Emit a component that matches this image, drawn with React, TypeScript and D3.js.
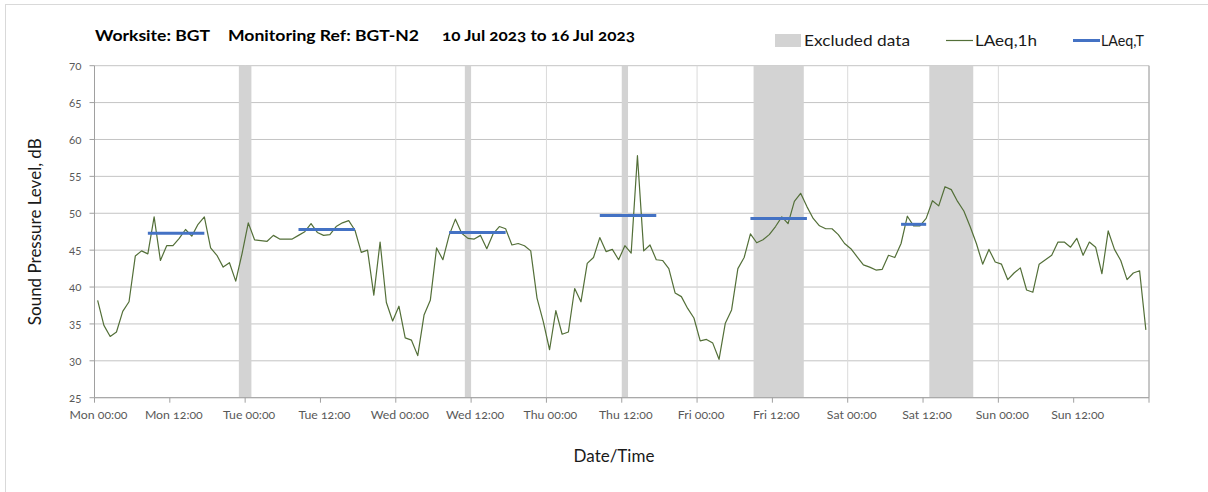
import * as d3 from 'd3'

const START = new Date(2023, 6, 10, 0, 0)
const END = new Date(2023, 6, 17, 0, 0)

// hourly LAeq,1h values, point i sits at hour i + 0.5 from Mon 00:00
const LAEQ_1H = [
  // Mon
  38.2, 34.8, 33.3, 33.9, 36.7, 38.0, 44.2, 44.9, 44.5, 49.5, 43.6, 45.6,
  45.6, 46.6, 47.8, 46.9, 48.5, 49.5, 45.3, 44.3, 42.7, 43.3, 40.8, 44.5,
  // Tue
  48.7, 46.4, 46.3, 46.2, 47.0, 46.5, 46.5, 46.5, 47.0, 47.5, 48.6, 47.4,
  47.0, 47.1, 48.2, 48.7, 49.0, 47.7, 44.7, 45.0, 38.9, 46.1, 37.9, 35.4,
  // Wed
  37.4, 33.1, 32.8, 30.7, 36.2, 38.2, 45.3, 43.7, 47.0, 49.2, 47.3, 46.6,
  46.5, 47.0, 45.2, 47.2, 48.2, 47.9, 45.7, 45.9, 45.6, 44.9, 38.5, 35.3,
  // Thu
  31.5, 36.8, 33.6, 33.9, 39.8, 38.0, 43.2, 44.0, 46.7, 44.8, 45.1, 43.7,
  45.6, 44.6, 57.8, 44.9, 45.7, 43.7, 43.6, 42.5, 39.2, 38.7, 37.1, 35.8,
  // Fri
  32.7, 32.9, 32.4, 30.2, 35.1, 36.9, 42.5, 44.0, 47.2, 46.0, 46.4, 47.1,
  48.2, 49.5, 48.6, 51.6, 52.7, 50.9, 49.3, 48.3, 47.9, 47.9, 47.1, 45.9,
  // Sat
  45.2, 44.1, 43.0, 42.7, 42.3, 42.4, 44.3, 44.0, 45.9, 49.6, 48.3, 48.3,
  49.3, 51.7, 51.0, 53.6, 53.2, 51.6, 50.3, 48.2, 45.9, 43.1, 45.1, 43.4,
  // Sun
  43.1, 41.0, 41.9, 42.6, 39.6, 39.3, 43.1, 43.7, 44.3, 46.1, 46.1, 45.4,
  46.6, 44.3, 46.1, 45.4, 41.8, 47.6, 45.1, 43.6, 41.0, 41.9, 42.2, 34.2,
]
const POINT_OFFSET_H = 0.5

// excluded periods, hours from Mon 00:00
const EXCLUDED_START = [23, 59, 84, 105, 133]
const EXCLUDED_END = [25, 60, 85, 113, 140]

// LAeq,T day periods: first and last hourly point, level
const LAEQ_T_START = [8.5, 32.5, 56.5, 80.5, 104.5, 128.5]
const LAEQ_T_END = [17.5, 41.5, 65.5, 89.5, 113.5, 132.5]
const LAEQ_T_VALUE = [47.3, 47.8, 47.4, 49.7, 49.3, 48.5]

const Y_TICKS = [25, 30, 35, 40, 45, 50, 55, 60, 65, 70]

const FONT = 'Lato, "Open Sans", sans-serif'
const GREEN = '#536f38'
const BLUE = '#4472c4'
const BAND = '#d3d3d3'

const W = 1208
const H = 492
const m = { left: 94.5, right: 1149, top: 65.7, bottom: 397.7 }

const atHour = (h: number) => new Date(START.getTime() + h * 3600e3)

export default function App() {
  const x = d3.scaleTime().domain([START, END]).range([m.left, m.right])
  const y = d3.scaleLinear().domain([25, 70]).range([m.bottom, m.top])

  const halfDays = d3.timeHour.every(12)!.range(START, d3.timeHour.offset(END, 1))
  const days = d3.timeDay.range(START, d3.timeHour.offset(END, 1))
  const fmt = d3.timeFormat('%a %H:%M')

  const line = d3.line<number>()
    .x((_, i) => x(atHour(i + POINT_OFFSET_H)))
    .y(d => y(d))

  return (
    <>
      <style>{`body{margin:0}`}</style>
      <svg width={W} height={H} style={{ display: 'block', background: '#fff' }} fontFamily={FONT}>
        <rect x={5.5} y={4.5} width={W + 20} height={H + 20} fill="none" stroke="#d9d9d9" />

        {/* title */}
        <g fontWeight={700} fontSize={14.5} fill="#000">
          <text x={95} y={41} textLength={115} lengthAdjust="spacingAndGlyphs">Worksite: BGT</text>
          <text x={228} y={41} textLength={191} lengthAdjust="spacingAndGlyphs">Monitoring Ref: BGT-N2</text>
          <text x={442} y={41} textLength={193} lengthAdjust="spacingAndGlyphs"
            style={{ fontVariantNumeric: 'oldstyle-nums' }}>10 Jul 2023 to 16 Jul 2023</text>
        </g>

        {/* legend */}
        <g fontSize={16} fill="#1a1a1a">
          <rect x={775} y={34} width={26} height={13} fill={BAND} />
          <text x={804} y={46} textLength={106} lengthAdjust="spacingAndGlyphs">Excluded data</text>
          <line x1={946} x2={973} y1={40.5} y2={40.5} stroke={GREEN} strokeWidth={1.2} />
          <text x={975} y={46} textLength={62} lengthAdjust="spacingAndGlyphs">LAeq,1h</text>
          <line x1={1073} x2={1100} y1={40.5} y2={40.5} stroke={BLUE} strokeWidth={3} />
          <text x={1101} y={46} textLength={43} lengthAdjust="spacingAndGlyphs">LAeq,T</text>
        </g>

        {/* horizontal grid */}
        {Y_TICKS.map(t => (
          <line key={'gy' + t} x1={m.left} x2={m.right} y1={y(t)} y2={y(t)} stroke="#c4c4c4" strokeWidth={1} />
        ))}
        {/* vertical day grid */}
        {days.map(d => (
          <line key={'gx' + d.getTime()} x1={x(d)} x2={x(d)} y1={m.top} y2={m.bottom} stroke="#dadada" strokeWidth={1} />
        ))}

        {/* excluded bands */}
        {EXCLUDED_START.map((s, i) => (
          <rect key={'ex' + i} x={x(atHour(s))} y={m.top}
            width={x(atHour(EXCLUDED_END[i])) - x(atHour(s))} height={m.bottom - m.top} fill={BAND} />
        ))}

        {/* axes */}
        <line x1={m.left} x2={m.left} y1={m.top} y2={m.bottom} stroke="#a0a0a0" />
        <line x1={m.left} x2={m.right} y1={m.bottom} y2={m.bottom} stroke="#a0a0a0" />
        <line x1={m.right} x2={m.right} y1={m.top} y2={m.bottom} stroke="#a0a0a0" />
        {Y_TICKS.map(t => (
          <g key={'ty' + t}>
            <line x1={m.left - 5} x2={m.left} y1={y(t)} y2={y(t)} stroke="#a0a0a0" />
            <text x={m.left - 13} y={y(t)} dy="0.35em" textAnchor="end" fontSize={11.5} fill="#595959"
              style={{ fontVariantNumeric: 'oldstyle-nums' }}>{t}</text>
          </g>
        ))}
        {halfDays.map(d => (
          <g key={'tx' + d.getTime()}>
            <line x1={x(d)} x2={x(d)} y1={m.bottom} y2={m.bottom + 5} stroke="#a0a0a0" />
            {d < END && (
              <text x={x(d) + 4} y={m.bottom + 21} textAnchor="middle" fontSize={12.3} fill="#595959"
                style={{ fontVariantNumeric: 'oldstyle-nums' }}>{fmt(d)}</text>
            )}
          </g>
        ))}

        {/* LAeq,1h */}
        <path d={line(LAEQ_1H) ?? ''} fill="none" stroke={GREEN} strokeWidth={1.2} strokeLinejoin="round" />

        {/* LAeq,T */}
        {LAEQ_T_START.map((s, i) => (
          <line key={'lt' + i} x1={x(atHour(s))} x2={x(atHour(LAEQ_T_END[i]))}
            y1={y(LAEQ_T_VALUE[i])} y2={y(LAEQ_T_VALUE[i])} stroke={BLUE} strokeWidth={3} />
        ))}

        {/* axis titles */}
        <text transform={`translate(41,${(m.top + m.bottom) / 2}) rotate(-90)`} textAnchor="middle"
          fontSize={17} fill="#1a1a1a">Sound Pressure Level, dB</text>
        <text x={614} y={462} textAnchor="middle" fontSize={17} fill="#1a1a1a">Date/Time</text>
      </svg>
    </>
  )
}
